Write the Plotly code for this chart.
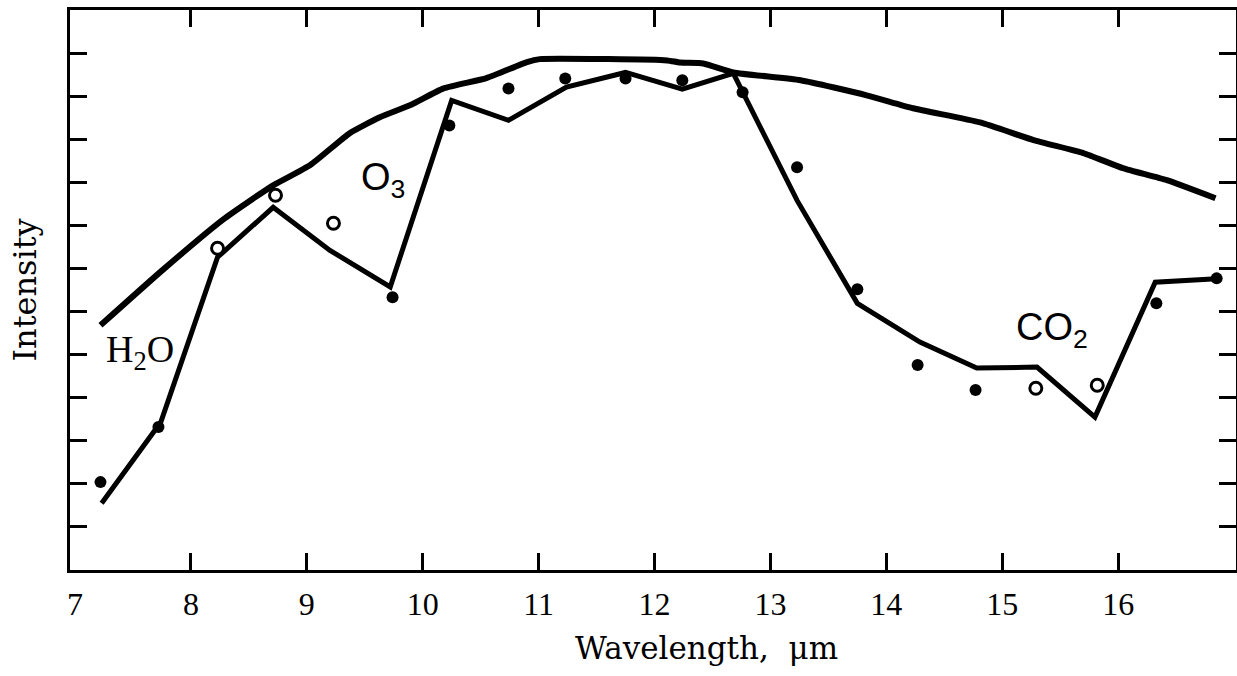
import plotly.graph_objects as go

# Smooth envelope curve (upper)
env_x = [7.22, 7.75, 8.28, 8.71, 9.03, 9.37, 9.63, 9.90, 10.18, 10.55, 10.90, 11.01,
         11.60, 12.11, 12.22, 12.42, 12.68, 13.26, 13.83, 14.23, 14.81, 15.27, 15.70,
         16.04, 16.42, 16.84]
env_y = [5.68, 6.95, 8.14, 8.93, 9.40, 10.14, 10.51, 10.80, 11.18, 11.42, 11.79, 11.86,
         11.86, 11.83, 11.78, 11.76, 11.55, 11.37, 11.02, 10.72, 10.39, 9.98, 9.68,
         9.33, 9.05, 8.63]

# Jagged model curve (lower)
mod_x = [7.23, 7.74, 8.23, 8.71, 9.20, 9.72, 10.25, 10.74, 11.24, 11.75, 12.24, 12.68,
         13.23, 13.75, 14.29, 14.78, 15.30, 15.80, 16.32, 16.85]
mod_y = [1.55, 3.43, 7.26, 8.42, 7.42, 6.57, 10.90, 10.44, 11.21, 11.55, 11.16, 11.53,
         8.58, 6.19, 5.29, 4.69, 4.71, 3.55, 6.68, 6.76]

# Measured points
filled_x = [7.22, 7.72, 9.74, 10.23, 10.74, 11.23, 11.75, 12.24, 12.76, 13.23, 13.75,
            14.27, 14.77, 16.33, 16.85]
filled_y = [2.04, 3.32, 6.33, 10.32, 11.18, 11.41, 11.41, 11.37, 11.09, 9.35, 6.52,
            4.76, 4.18, 6.19, 6.77]
open_x = [8.23, 8.73, 9.23, 15.29, 15.82]
open_y = [7.47, 8.70, 8.05, 4.22, 4.29]

x_label_vals = [7, 8, 9, 10, 11, 12, 13, 14, 15, 16]
x_tick_vals = [8, 9, 10, 11, 12, 13, 14, 15, 16]
y_tick_vals = [1, 2, 3, 4, 5, 6, 7, 8, 9, 10, 11, 12]

band_labels = [
    dict(text="H<sub>2</sub>O", x=7.56, y=5.06, font="Liberation Serif"),
    dict(text="O<sub>3</sub>", x=9.66, y=9.05, font="Liberation Sans"),
    dict(text="CO<sub>2</sub>", x=15.43, y=5.57, font="Liberation Sans"),
]

x_title = "Wavelength,  μm"
y_title = "Intensity"

XR = [6.957, 17.017]
YR = [0, 13]

fig = go.Figure()
fig.add_trace(go.Scatter(x=env_x, y=env_y, mode="lines",
                         line=dict(color="black", width=6, shape="spline", smoothing=0.5),
                         showlegend=False, hoverinfo="skip"))
fig.add_trace(go.Scatter(x=mod_x, y=mod_y, mode="lines",
                         line=dict(color="black", width=5),
                         showlegend=False, hoverinfo="skip"))
fig.add_trace(go.Scatter(x=filled_x, y=filled_y, mode="markers",
                         marker=dict(color="black", size=12, symbol="circle"),
                         showlegend=False))
fig.add_trace(go.Scatter(x=open_x, y=open_y, mode="markers",
                         marker=dict(color="white", size=12, symbol="circle",
                                     line=dict(color="black", width=3)),
                         showlegend=False))

for lab in band_labels:
    fig.add_annotation(x=lab["x"], y=lab["y"], text=lab["text"], showarrow=False,
                       font=dict(family=lab["font"], size=38, color="black"),
                       xanchor="center", yanchor="middle")

# x-axis title (offset to the right of centre as in the reference)
fig.add_annotation(x=0.546, y=-0.139, xref="paper", yref="paper", text=x_title,
                   showarrow=False, xanchor="center", yanchor="middle",
                   font=dict(family="DejaVu Serif", size=31, color="black"))

fig.update_layout(
    width=1237, height=676,
    margin=dict(l=70, r=1, t=10, b=106, autoexpand=False),
    paper_bgcolor="white", plot_bgcolor="white",
    xaxis=dict(range=XR, tickvals=x_tick_vals, ticks="inside", ticklen=17, tickwidth=3,
               tickcolor="black", showticklabels=False, showgrid=False, zeroline=False,
               showline=True, linecolor="black", linewidth=3, mirror="ticks",
               automargin=False),
    xaxis2=dict(range=XR, overlaying="x", anchor="y", side="bottom",
                tickvals=x_label_vals, ticktext=[str(v) for v in x_label_vals],
                ticks="", showgrid=False, zeroline=False, showline=False,
                automargin=False,
                tickfont=dict(family="Liberation Serif", size=32, color="black"),
                ticklabelstandoff=12),
    yaxis=dict(range=YR, tickvals=y_tick_vals, ticks="inside", ticklen=17, tickwidth=3,
               tickcolor="black", showticklabels=False, showgrid=False, zeroline=False,
               showline=True, linecolor="black", linewidth=3, mirror="ticks",
               automargin=False,
               title=dict(text=y_title, standoff=21,
                          font=dict(family="DejaVu Serif", size=32, color="black"))),
)
# invisible trace on xaxis2 so that the label axis renders
fig.add_trace(go.Scatter(x=[XR[0]], y=[YR[0]], xaxis="x2", mode="markers",
                         marker=dict(opacity=0), showlegend=False, hoverinfo="skip"))

fig.write_html("out.html",
               config={"displayModeBar": False},
               post_script="document.body.style.margin='0px';document.body.style.overflow='hidden';")
